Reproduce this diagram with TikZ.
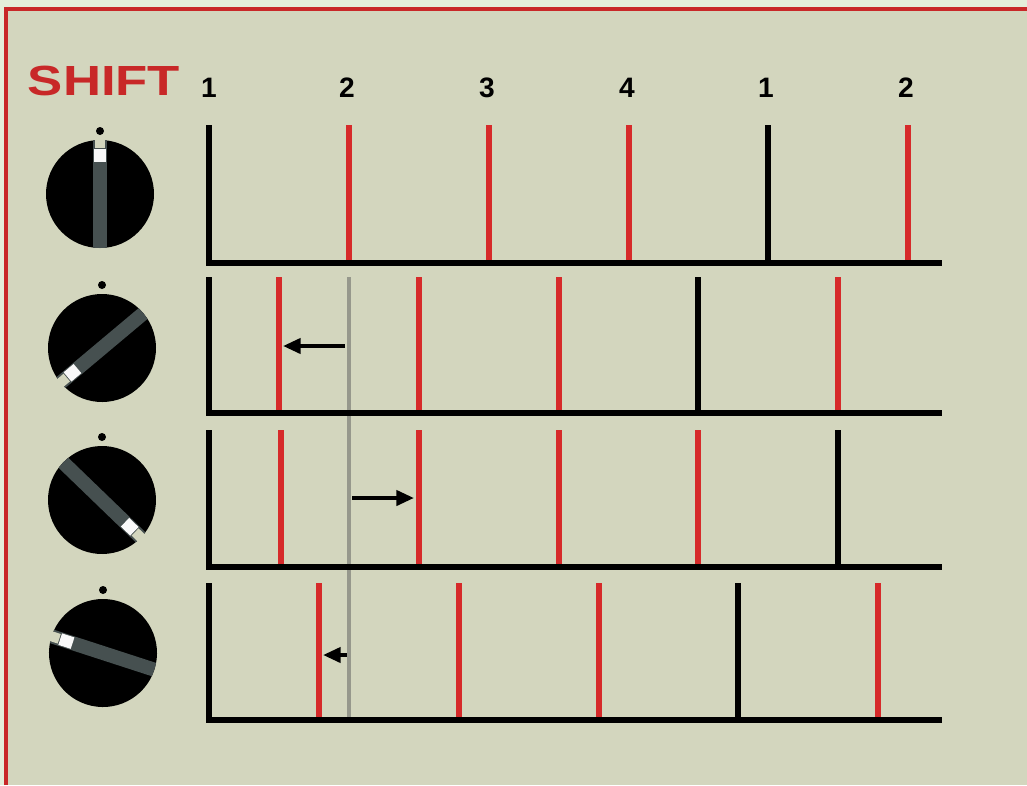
\documentclass[tikz,border=0pt]{standalone}
\usepackage{fontspec}
\setmainfont{Liberation Sans}
\usetikzlibrary{arrows.meta}

\definecolor{outerbg}{RGB}{228,238,218}
\definecolor{panelbg}{RGB}{211,214,190}
\definecolor{framered}{RGB}{200,40,40}
\definecolor{beatred}{RGB}{214,42,42}
\definecolor{knobbar}{RGB}{70,80,80}
\definecolor{guide}{RGB}{150,152,140}

\tikzset{
  downbeat/.style={line width=3.7pt, black},
  beat/.style={line width=3.3pt, beatred},
  axisline/.style={line width=3.7pt, black},
  shiftarrow/.style={line width=2.3pt, -{Triangle[length=10pt,width=8.5pt]}},
  count/.style={font=\bfseries\fontsize{16}{16}\selectfont},
}

% knob: centre x, centre y, angle of the pointer
\newcommand{\shiftknob}[3]{
  \fill[black] (#1,#2-63) circle (4);
  \begin{scope}[shift={(#1,#2)}, rotate=#3]
    \fill[black] (0,0) circle (54);
    \begin{scope}
      \clip (0,0) circle (54);
      \fill[knobbar] (-60,-7) rectangle (60,7);
    \end{scope}
    \fill[white!95!gray] (32,-6) rectangle (45,6);
    \fill[panelbg] (46,-5) rectangle (58,5);
  \end{scope}
}

\begin{document}
\begin{tikzpicture}[x=0.02cm, y=-0.02cm]
    \useasboundingbox (0,0) rectangle (1027,785);

    % Background and frame
    \fill[outerbg] (0,0) rectangle (1027,785);
    \fill[panelbg] (6,9) rectangle (1027,785);
    \draw[framered, line width=1.8pt] (6,785) -- (6,9) -- (1027,9);

    % Title and counts
    \node[text=framered, font=\bfseries\fontsize{24}{24}\selectfont] (title) at (104,81) {\scalebox{1.25}[1]{SHIFT}};
    \foreach \x/\lab [count=\i] in {209/1, 347/2, 487/3, 627/4, 766/1, 906/2} {
        \node[count] (c\i) at (\x,88) {\lab};
    }

    % Guide line
    \draw[guide, line width=2pt] (349,277) -- (349,720);

    % Panels
    \foreach \top/\base/\reds/\blacks in {
        125/263/{349,489,629,908}/{768},
        277/413/{279,419,559,838}/{698},
        430/567/{281,419,559,698}/{838},
        583/720/{319,459,599,878}/{738}} {
        \foreach \x in \reds {
            \draw[beat] (\x,\top) -- (\x,\base);
        }
        \foreach \x in \blacks {
            \draw[downbeat] (\x,\top) -- (\x,\base);
        }
        \draw[axisline] (209,\top) -- (209,\base) -- (942,\base);
    }

    % Arrows
    \coordinate (a1s) at (345,346);
    \coordinate (a1e) at (283,346);
    \coordinate (a2s) at (352,498);
    \coordinate (a2e) at (414,498);
    \coordinate (a3s) at (347,655);
    \coordinate (a3e) at (323,655);
    \draw[shiftarrow] (a1s) -- (a1e);
    \draw[shiftarrow] (a2s) -- (a2e);
    \draw[shiftarrow] (a3s) -- (a3e);

    % Knobs
    \shiftknob{100}{194}{90}
    \shiftknob{102}{348}{220}
    \shiftknob{102}{500}{-44}
    \shiftknob{103}{653}{162}
\end{tikzpicture}
\end{document}
